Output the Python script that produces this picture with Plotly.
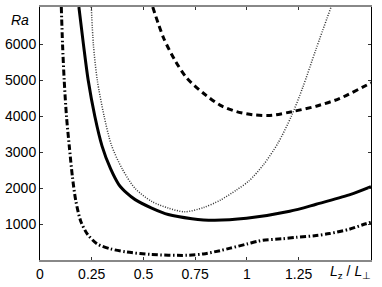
import plotly.graph_objects as go

# Solid curve
x_solid = [0.188, 0.21, 0.233, 0.265, 0.30, 0.341, 0.381, 0.42, 0.46, 0.54, 0.62, 0.734, 0.838, 0.998, 1.207, 1.335, 1.495, 1.6]
ra_solid = [7040, 6000, 5000, 4000, 3170, 2540, 2100, 1860, 1680, 1445, 1265, 1150, 1105, 1160, 1355, 1550, 1810, 2040]

# Dotted curve
x_dot = [0.248, 0.258, 0.277, 0.31, 0.345, 0.397, 0.46, 0.54, 0.62, 0.70, 0.79, 0.87, 0.95, 1.01, 1.08, 1.15, 1.215, 1.27, 1.335, 1.407]
ra_dot = [7040, 6000, 5000, 4000, 3200, 2540, 1990, 1630, 1445, 1340, 1460, 1660, 1950, 2200, 2650, 3250, 4000, 4800, 5880, 7040]

# Dashed curve
x_dash = [0.545, 0.598, 0.654, 0.71, 0.79, 0.87, 0.95, 1.03, 1.10, 1.14, 1.22, 1.335, 1.447, 1.59, 1.6]
ra_dash = [7040, 6170, 5540, 5060, 4640, 4310, 4130, 4040, 4020, 4040, 4130, 4280, 4490, 4900, 4930]

# Dash-dot curve
x_dd = [0.103, 0.109, 0.117, 0.128, 0.141, 0.157, 0.173, 0.197, 0.229, 0.277, 0.341, 0.42, 0.534, 0.71, 0.79, 0.87, 0.92, 1.0, 1.05, 1.078, 1.17, 1.239, 1.335, 1.4, 1.495, 1.575, 1.6]
ra_dd = [7040, 6000, 5000, 4000, 3200, 2300, 1650, 1080, 720, 445, 310, 220, 155, 130, 170, 260, 330, 445, 520, 550, 590, 630, 680, 735, 855, 1010, 1050]

x_ticks = [0, 0.25, 0.5, 0.75, 1, 1.25]
x_ticklabels = ["0", "0.25", "0.5", "0.75", "1", "1.25"]
y_ticks = [1000, 2000, 3000, 4000, 5000, 6000]

FONT = "Liberation Sans, Arial, Helvetica, sans-serif"

fig = go.Figure()
fig.add_trace(go.Scatter(x=x_dot, y=ra_dot, mode="lines", line=dict(color="#333333", width=1.5, dash="1px,1.5px", shape="spline", smoothing=0.8), hoverinfo="skip"))
fig.add_trace(go.Scatter(x=x_solid, y=ra_solid, mode="lines", line=dict(color="black", width=3, shape="spline", smoothing=0.8), hoverinfo="skip"))
fig.add_trace(go.Scatter(x=x_dash, y=ra_dash, mode="lines", line=dict(color="black", width=3, dash="6px,4px", shape="spline", smoothing=0.8), hoverinfo="skip"))
fig.add_trace(go.Scatter(x=x_dd, y=ra_dd, mode="lines", line=dict(color="black", width=3, dash="6px,2.5px,1.5px,2.5px", shape="spline", smoothing=0.8), hoverinfo="skip"))

fig.update_layout(
    width=382, height=287,
    margin=dict(l=39, r=11, t=5, b=24),
    paper_bgcolor="white", plot_bgcolor="white",
    showlegend=False,
    font=dict(family=FONT, size=14, color="black"),
    xaxis=dict(range=[0, 1.6], tickvals=x_ticks, ticktext=x_ticklabels, ticks="inside", ticklen=3,
               tickcolor="#333", showgrid=False, zeroline=False, showline=True, linecolor="#888",
               linewidth=1.5, mirror="ticks", tickfont=dict(size=14)),
    yaxis=dict(range=[0, 7040], tickvals=y_ticks, ticks="inside", ticklen=3, tickcolor="#333",
               showgrid=False, zeroline=False, showline=True, linecolor="black", linewidth=1,
               mirror="ticks", tickfont=dict(size=14)),
    annotations=[
        dict(text="<i>Ra</i>", x=-0.027, xref="paper", xanchor="right", y=1, yref="paper",
             yanchor="top", yshift=-3, showarrow=False, font=dict(size=14, family=FONT)),
        dict(text="<i>L</i><sub>z</sub> / <i>L</i><sub>⊥</sub>", x=1.5, xref="x", xanchor="center",
             y=0, yref="paper", yanchor="top", yshift=-1, showarrow=False, font=dict(size=14, family=FONT)),
    ],
)
fig.write_html("out.html", config={"displayModeBar": False},
               post_script="document.body.style.margin='0';document.body.style.padding='0';")
